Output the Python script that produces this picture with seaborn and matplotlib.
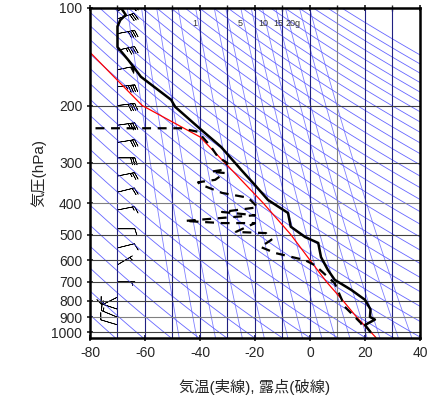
import numpy as np
import matplotlib
matplotlib.use("Agg")
import matplotlib.pyplot as plt
import seaborn as sns
import pandas as pd

sns.set_theme(style="white")
plt.rcParams['font.family'] = ['Liberation Sans', 'Noto Sans CJK JP']
plt.rcParams['axes.unicode_minus'] = False

temp_p = [100,105,109,114,132,145,163,192,202,233,268,316,352,391,429,473,509,531,587,643,690,741,795,851,898,915,951,1000]
temp_t = [-68.7,-67,-69,-70,-70,-66,-61.5,-50.5,-49,-40.7,-32.4,-25,-20,-15.3,-8,-7,-1.8,3,4,6.5,9,15,20,22,21.8,23.6,20,22]
dew_p = [235,235,241,268,288,301,316,320,323,339,345,350,372,385,412,426,436,454,461,461,491,495,519,546,570,600,622,707,836,938,990]
dew_t = [-78,-47,-40.7,-36,-33.5,-30,-32,-36,-31,-34.5,-40.7,-40,-32,-22.5,-19,-32,-20,-45.5,-32,-20,-27,-16,-14,-18,-12.7,-1.8,1.8,9,12.7,18.5,20]
parcel_p = [1040,900,800,700,600,500,400,300,250,200,137]
parcel_t = [24,17,12,6,0,-7,-17,-31,-40,-61,-80]
barb_p = [102,108,120,135,155,175,200,230,260,290,330,370,420,480,550,620,700,780,850,900,950]
barb_u = [-25,-30,-40,-45,-50,-45,-40,-35,-30,-30,-25,-20,-15,-10,-8,-5,-5,10,15,12,10]
barb_v = [-10,-10,-8,-10,-10,-5,-5,-5,-5,0,-5,-5,-3,0,-2,-3,0,5,-5,-5,-3]
mix_labels = ['1', '5', '10', '15', '20g']
mix_label_x = [-42, -25.5, -17, -11.6, -6]

fig = plt.figure(figsize=(4.31, 4.08), dpi=100)
ax = fig.add_axes([90/431, 70/408, 330/431, 330/408])
ax.set_yscale('log')
ax.set_xlim(-80, 40)
ax.set_ylim(1043, 100)

pp = np.logspace(np.log10(1050), 2, 60)
for th in range(200, 560, 10):
    ax.plot(th*(pp/1000)**0.286 - 273.15, pp, color='#4040ff', lw=0.6, alpha=0.8)
for w in [0.05,0.1,0.2,0.5,1,2,3,5,7,10,15,20,30,40]:
    e = w*pp/(622+w)
    td = 243.5*np.log(e/6.112)/(17.67-np.log(e/6.112))
    ax.plot(td, pp, color='#6060ff', lw=0.6, alpha=0.8)
for lab, x in zip(mix_labels, mix_label_x):
    ax.text(x, 112, lab, fontsize=6.5, color='#333', ha='center', va='center')

for x in range(-70, 40, 10):
    ax.axvline(x, color='gray' if x == 10 else '#202080', lw=0.8)
for p in range(200, 1001, 100):
    ax.axhline(p, color='gray' if p in (400, 900) else '#404040', lw=0.8)

sns.lineplot(x=parcel_t, y=parcel_p, sort=False, estimator=None, color='red', lw=0.9, ax=ax)
sns.lineplot(x=temp_t, y=temp_p, sort=False, estimator=None, color='black', lw=1.8, ax=ax)
sns.lineplot(x=dew_t, y=dew_p, sort=False, estimator=None, color='black', lw=1.6, ls=(0, (4, 3)), ax=ax)
ax.barbs([-70]*len(barb_p), barb_p, barb_u, barb_v, length=5, lw=0.5, color='black')

ax.set_xticks(range(-80, 41, 20))
ax.set_yticks([100,200,300,400,500,600,700,800,900,1000])
ax.set_yticklabels(['100','200','300','400','500','600','700','800','900','1000'])
ax.minorticks_off()
ax.set_xticks(range(-80, 41, 10), minor=True)
ax.tick_params(axis='both', labelsize=10, length=4, direction='inout', top=True, bottom=True, left=True)
ax.tick_params(axis='x', which='minor', length=4, direction='inout', top=True)
for s in ax.spines.values():
    s.set_linewidth(1.8); s.set_color('black')
ax.set_ylabel('気圧(hPa)', fontsize=11)
ax.set_xlabel('気温(実線), 露点(破線)', fontsize=11, labelpad=14)
fig.savefig('out.png', dpi=100)
